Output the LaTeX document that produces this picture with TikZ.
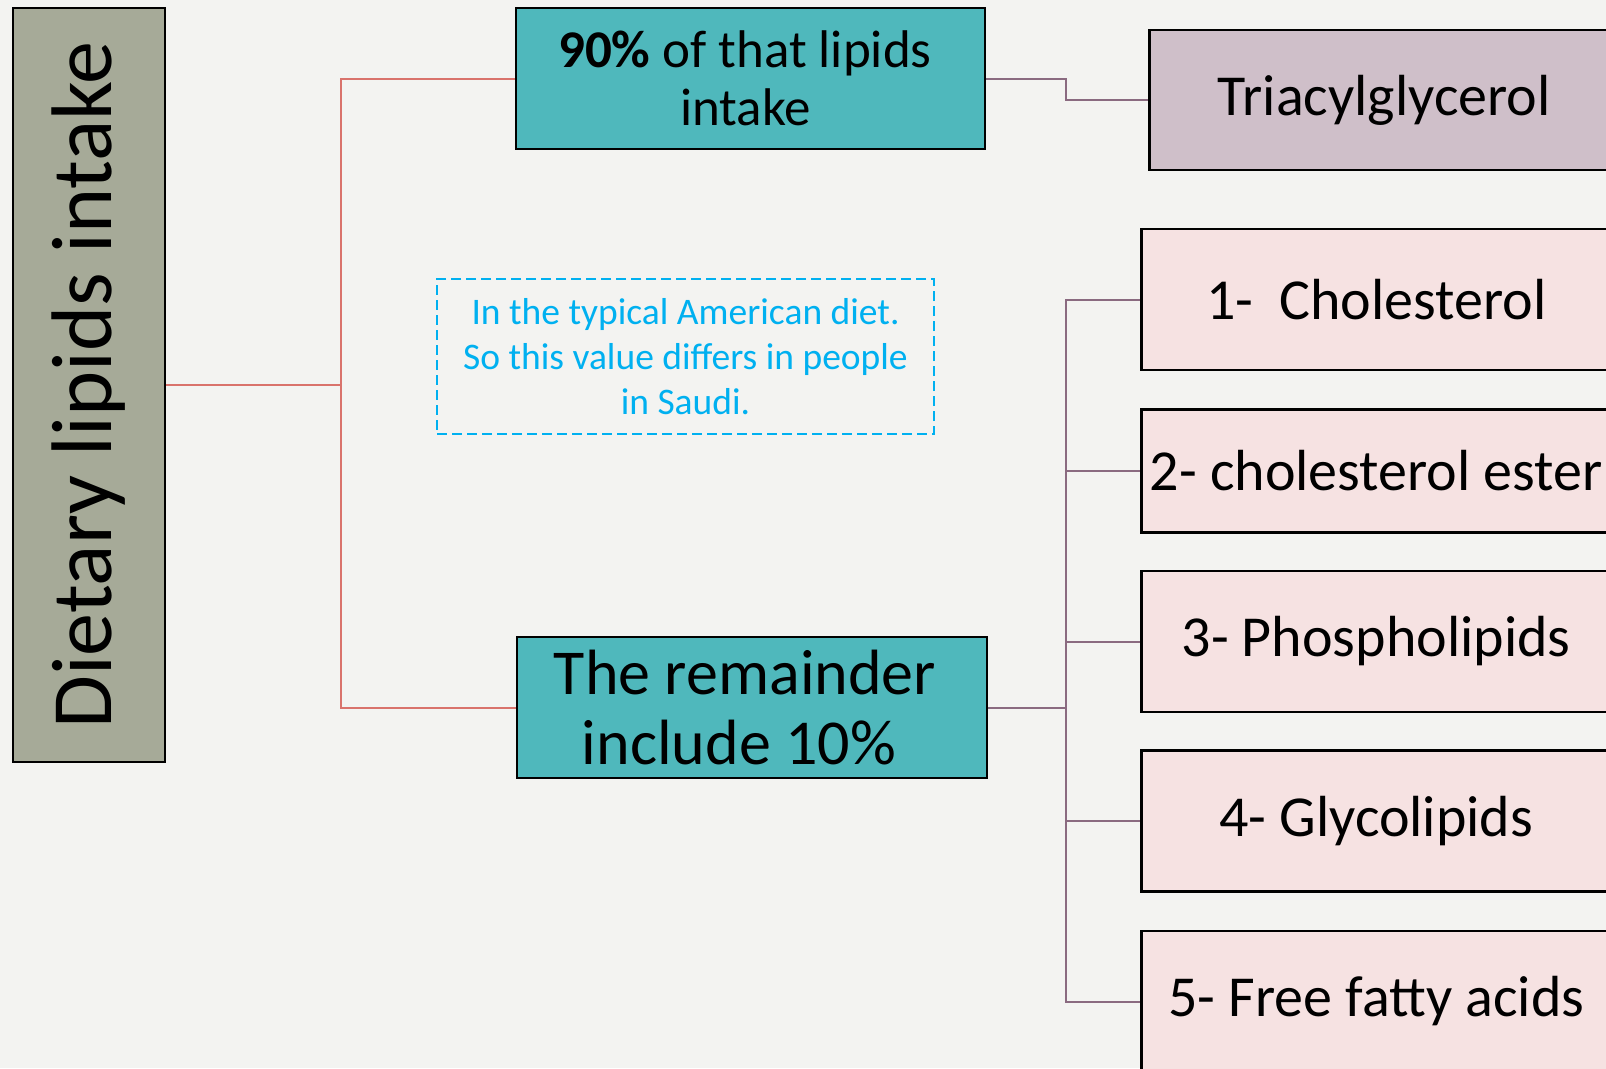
\documentclass[tikz,border=0pt]{standalone}
\usepackage{fontspec}
\setmainfont{Carlito}
\usetikzlibrary{positioning,calc}
\definecolor{LipBack}{HTML}{F3F3F1}
\definecolor{LipGrey}{HTML}{A6AA98}
\definecolor{LipTeal}{HTML}{4FB8BC}
\definecolor{LipMauve}{HTML}{CFBFC9}
\definecolor{LipPink}{HTML}{F6E2E2}
\definecolor{LipRed}{HTML}{D9736C}
\definecolor{LipPurple}{HTML}{8A6A80}
\definecolor{LipNote}{HTML}{00B0F0}
\begin{document}
\begin{tikzpicture}[x=1pt,y=-1pt,
    box/.style={draw=black,line width=2.5pt,inner sep=0pt,align=center},
    itembox/.style={box,fill=LipPink,minimum width=470pt,minimum height=141pt,
      anchor=west,font=\fontsize{58}{69}\selectfont},
    redline/.style={draw=LipRed,line width=2pt},
    purpline/.style={draw=LipPurple,line width=2pt}]
  \useasboundingbox (0,0) rectangle (1606,1068);
  \fill[LipBack] (0,0) rectangle (1606,1068);

  % root and the two shares
  \node[box,fill=LipGrey,minimum width=152pt,minimum height=754pt] (diet) at (89,385)
    {\rotatebox{90}{\fontsize{86}{100}\selectfont Dietary lipids intake}};
  \node[box,fill=LipTeal,minimum width=469pt,minimum height=141pt,
    font=\fontsize{53}{58}\selectfont] (major) at (750.5,78.5)
    {\textbf{90\%} of that lipids\kern11pt\\intake\kern10pt};
  \node[box,fill=LipTeal,minimum width=470pt,minimum height=141pt,
    font=\fontsize{64}{70}\selectfont] (rest) at (752,707.5)
    {The remainder\kern14pt\\include 10\%\kern26pt};
  \node[draw=LipNote,dash pattern=on 10pt off 5pt,line width=2pt,inner sep=0pt,
    minimum width=497pt,minimum height=155pt,align=center,text=LipNote,
    font=\fontsize{37.5}{45}\selectfont] (note) at (685.5,356.5)
    {In the typical American diet.\\So this value differs in people\\in Saudi.};

  % lipid kinds
  \node[box,fill=LipMauve,minimum width=470pt,minimum height=140pt,anchor=west,
    font=\fontsize{58}{69}\selectfont] (tag) at (1148,100) {Triacylglycerol};
  \node[itembox] (chol) at (1140,299.5) {1-~ Cholesterol};
  \node[itembox,minimum height=123pt] (ester) at (1140,471) {2- cholesterol ester};
  \node[itembox] (phos) at (1140,641.5) {3- Phospholipids};
  \node[itembox] (glyc) at (1140,821) {4- Glycolipids};
  \node[itembox] (ffa) at (1140,1001.5) {5- Free fatty acids};

  % connectors
  \coordinate (rbus) at (341,0);
  \coordinate (pbus) at (1066,0);
  \draw[redline] (diet.east) -- (diet.east -| rbus) |- (major.west);
  \draw[redline] (diet.east) -- (diet.east -| rbus) |- (rest.west);
  \draw[purpline] (major.east) -- (major.east -| pbus) |- (tag.west);
  \foreach \n in {chol,ester,phos,glyc,ffa}
    \draw[purpline] (rest.east) -- (rest.east -| pbus) |- (\n.west);
\end{tikzpicture}
\end{document}
